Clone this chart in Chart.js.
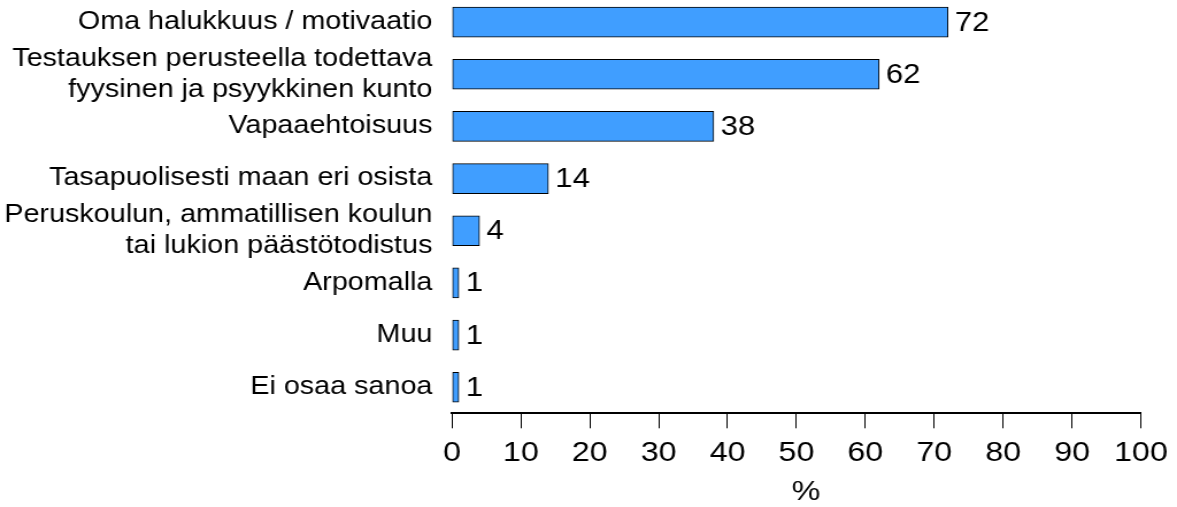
<!DOCTYPE html>
<html>
<head>
<meta charset="utf-8">
<script src="https://cdn.jsdelivr.net/npm/chart.js@4/dist/chart.umd.min.js"></script>
<style>
html, body { margin: 0; padding: 0; background: #fff; overflow: hidden; }
canvas { display: block; }
</style>
</head>
<body>
<canvas id="c" width="1024" height="511" style="width:1177px;height:511px;margin-top:-4px;"></canvas>
<script>
// ---- data ----
const categories = [
  "Oma halukkuus / motivaatio",
  ["Testauksen perusteella todettava", "fyysinen ja psyykkinen kunto"],
  "Vapaaehtoisuus",
  "Tasapuolisesti maan eri osista",
  ["Peruskoulun, ammatillisen koulun", "tai lukion päästötodistus"],
  "Arpomalla",
  "Muu",
  "Ei osaa sanoa"
];
const values = [72, 62, 38, 14, 4, 1, 1, 1];
const xTicks = [0, 10, 20, 30, 40, 50, 60, 70, 80, 90, 100];
const xTitle = "%";

// ---- style ----
const FONT = "'Liberation Sans', Arial, sans-serif";

const valueLabels = {
  id: 'valueLabels',
  afterDatasetsDraw(chart) {
    const ctx = chart.ctx;
    const meta = chart.getDatasetMeta(0);
    ctx.save();
    ctx.font = "27px " + FONT;
    ctx.fillStyle = '#000';
    ctx.textAlign = 'left';
    ctx.textBaseline = 'middle';
    meta.data.forEach((bar, i) => {
      ctx.fillText(String(values[i]), bar.x + 6, bar.y + 1);
    });
    ctx.restore();
  }
};

const axisTitle = {
  id: 'axisTitle',
  afterDraw(chart) {
    const ctx = chart.ctx;
    const a = chart.chartArea;
    ctx.save();
    ctx.font = "28px " + FONT;
    ctx.fillStyle = '#000';
    ctx.textAlign = 'center';
    ctx.textBaseline = 'middle';
    ctx.fillText(xTitle, (a.left + a.right) / 2 + 8.3, a.bottom + 79);
    ctx.restore();
  }
};

new Chart(document.getElementById('c'), {
  type: 'bar',
  data: {
    labels: categories,
    datasets: [{
      data: values,
      backgroundColor: '#409eff',
      borderColor: '#000',
      borderWidth: 1,
      borderSkipped: false,
      barThickness: 30
    }]
  },
  options: {
    indexAxis: 'y',
    responsive: false,
    animation: false,
    devicePixelRatio: 1,
    layout: { padding: { top: 0, right: 30.7, left: 0, bottom: 0 } },
    plugins: { legend: { display: false }, tooltip: { enabled: false } },
    scales: {
      x: {
        type: 'linear',
        min: 0,
        max: 100,
        afterBuildTicks(s) { s.ticks = xTicks.map(v => ({ value: v })); },
        ticks: { font: { size: 28, family: FONT }, color: '#000', padding: 8, maxRotation: 0, autoSkip: false },
        grid: { drawOnChartArea: false, drawTicks: true, tickLength: 15, color: '#000', lineWidth: 1 },
        border: { display: true, color: '#000', width: 2 },
        afterFit(s) { s.height = 93.7; }
      },
      y: {
        ticks: { font: { size: 25, family: FONT, lineHeight: 1.24 }, color: '#000', padding: 17, autoSkip: false },
        grid: { display: false, drawTicks: false },
        border: { display: false },
        afterFit(s) { s.width = 393.2; s.paddingTop = 0; s.paddingBottom = 0; }
      }
    }
  },
  plugins: [valueLabels, axisTitle]
});
</script>
</body>
</html>
